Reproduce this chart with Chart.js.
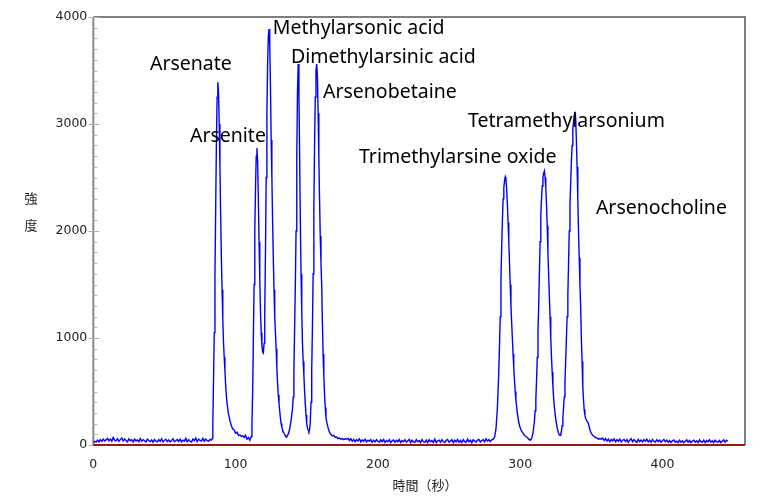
<!DOCTYPE html>
<html>
<head>
<meta charset="utf-8">
<script src="https://cdn.jsdelivr.net/npm/chart.js@4.4.1/dist/chart.umd.min.js"></script>
<style>
  body { margin: 0; background: #fff; }
  canvas { display: block; }
</style>
</head>
<body>
<canvas id="chrom" width="764" height="500"></canvas>
<script>
// retention time (s), intensity
const baselineStart = [
  [0,20],[1,35],[2,28],[3,45],[4,30],[5,50],[6,35],[7,55],[8,38],[9,48],[10,62],[11,40],[12,55],[13,35],[14,70],
  [15,45],[16,38],[17,60],[18,35],[19,50],[20,65],[21,38],[22,55],[23,42],[24,30],[25,58],[26,40],[27,50],[28,28],
  [29,55],[30,38],[31,48],[32,30],[33,60],[34,36],[35,50],[36,40],[37,28],[38,55],[39,42],[40,32],[41,48],[42,25],
  [43,52],[44,36],[45,30],[46,50],[47,35],[48,58],[49,28],[50,45],[51,52],[52,32],[53,48],[54,28],[55,42],[56,58],
  [57,30],[58,40],[59,52],[60,33],[61,55],[62,28],[63,45],[64,36],[65,62],[66,30],[67,50],[68,35],[69,28],[70,55],
  [71,40],[72,65],[73,32],[74,55],[75,42],[76,36],[77,62],[78,35],[79,55],[80,40],[81,35],[82,50],[83,45]
];

const earlyPeaks = [
  // arsenate
  [83.5,60],[84,200],[84.5,600],[85,1050],[85.5,1600],[86,2200],[86.5,2800],[87,3250],[87.5,3390],[88,3300],
  [88.5,3000],[89,2600],[89.5,2150],[90,1750],[90.5,1450],[91,1180],[91.5,960],[92,820],[92.5,700],[93,560],
  [93.5,460],[94,390],[95,290],[96,230],[97,180],[98,150],[99,140],[100,110],[101,120],[102,90],[103,95],
  [104,80],[105,85],[106,70],[107,90],[108,55],[109,70],[110,45],[111,80],
  // arsenite + methylarsonic acid
  [111.5,200],[112,500],[112.5,1000],[113,1500],[113.5,2000],[114,2400],[114.5,2700],[115,2775],[115.5,2650],
  [116,2300],[116.5,1900],[117,1550],[117.5,1250],[118,1050],[118.5,930],[119,870],[119.5,860],[120,950],
  [120.5,1250],[121,1800],[121.5,2500],[122,3100],[122.5,3550],[123,3820],[123.5,3888],[124,3750],[124.5,3350],
  [125,2850],[125.5,2500],[126,2100],[126.5,1750],[127,1450],[127.5,1200],[128,1050],[128.5,900],[129,720],
  [129.5,580],[130,470],[130.5,390],[131,320],[131.5,250],[132,200],[132.5,170],[133,140],[134,110],[135,85],
  [135.5,75],[136,80],[136.5,95],[137,100],[138,150],[139,230],
  // dimethylarsinic acid
  [140,340],[140.5,450],[141,700],[141.5,1100],[142,1500],[142.5,2000],[143,2700],[143.5,3300],[144,3561],
  [144.5,3300],[145,2700],[145.5,2100],[146,1600],[146.5,1250],[147,950],[147.5,780],[148,650],[148.5,500],
  [149,380],[149.5,280],[150,200],[150.5,160],[151,140],[151.5,125],
  // arsenobetaine
  [152,140],[152.5,220],[153,400],[153.5,700],[154,1100],[154.5,1600],[155,2200],[155.5,2800],[156,3250],
  [156.5,3500],[157,3561],[157.5,3450],[158,3100],[158.5,2700],[159,2300],[159.5,1950],[160,1700],[160.5,1500],
  [161,1150],[161.5,850],[162,650],[162.5,480],[163,350],[163.5,260],[164,220],[165,160],[166,120],[167,100],
  [168,85],[169,90],[170,70],[171,75],[172,60],[173,65],[174,55],[175,60],[176,50],[177,58]
];

const midBaseline = [
  [178,55],[179,62],[180,42],[181,58],[182,35],[183,52],[184,30],[185,50],[186,38],[187,58],[188,30],[189,48],
  [190,34],[191,55],[192,28],[193,45],[194,35],[195,52],[196,25],[197,44],[198,30],[199,50],[200,35],[201,25],
  [202,48],[203,30],[204,52],[205,25],[206,42],[207,30],[208,50],[209,22],[210,40],[211,48],[212,26],[213,44],
  [214,30],[215,52],[216,22],[217,42],[218,30],[219,48],[220,26],[221,40],[222,52],[223,22],[224,45],[225,30],
  [226,25],[227,50],[228,30],[229,42],[230,22],[231,52],[232,30],[233,25],[234,45],[235,22],[236,50],[237,30],
  [238,42],[239,25],[240,55],[241,22],[242,40],[243,46],[244,26],[245,50],[246,30],[247,22],[248,44],[249,52],
  [250,26],[251,38],[252,50],[253,22],[254,45],[255,30],[256,52],[257,26],[258,42],[259,22],[260,50],[261,32],
  [262,26],[263,55],[264,30],[265,45],[266,22],[267,50],[268,36],[269,28],[270,46],[271,52],[272,28],[273,42],
  [274,50],[275,30],[276,58],[277,36],[278,50],[279,32],[280,48],[281,55],[282,70]
];

const latePeaks = [
  // trimethylarsine oxide
  [283,150],[284,350],[285,700],[285.5,950],[286,1200],[286.5,1550],[287,1850],[287.5,2100],[288,2300],
  [288.5,2400],[289,2470],[289.5,2505],[290,2480],[290.5,2400],[291,2250],[291.5,2080],[292,1900],[292.5,1700],
  [293,1500],[293.5,1300],[294,1150],[294.5,1000],[295,850],[295.5,720],[296,600],[296.5,500],[297,420],
  [298,300],[299,210],[300,160],[301,130],[302,110],[303,90],[304,80],[305,70],[306,55],[307,45],[308,60],
  // tetramethylarsonium
  [309,110],[310,220],[310.5,320],[311,430],[311.5,600],[312,820],[312.5,1050],[313,1300],[313.5,1600],
  [314,1900],[314.5,2150],[315,2300],[315.5,2420],[316,2500],[316.5,2540],[317,2560],[317.5,2500],[318,2400],
  [318.5,2250],[319,2050],[319.5,1800],[320,1600],[320.5,1400],[321,1200],[321.5,1000],[322,820],[322.5,680],
  [323,550],[323.5,440],[324,360],[325,240],[326,160],[327,110],[327.5,95],[328,90],[328.5,100],
  // arsenocholine
  [329,130],[329.5,180],[330,260],[330.5,350],[331,450],[331.5,600],[332,800],[332.5,1000],[333,1200],
  [333.5,1400],[334,1700],[334.5,2000],[335,2250],[335.5,2450],[336,2650],[336.5,2800],[337,2950],[337.5,3020],
  [338,3080],[338.5,3115],[339,3050],[339.5,2850],[340,2600],[340.5,2300],[341,2000],[341.5,1750],[342,1500],
  [342.5,1300],[343,1000],[343.5,780],[344,550],[344.5,420],[345,330],[345.5,280],[346,250],[347,220],
  [348,200],[349,140],[350,110],[351,90],[352,80],[353,70],[354,65],[355,55],[356,60]
];

const tailBaseline = [
  [357,55],[358,65],[359,42],[360,60],[361,38],[362,55],[363,32],[364,52],[365,38],[366,58],[367,30],[368,50],
  [369,35],[370,55],[371,28],[372,45],[373,52],[374,32],[375,50],[376,25],[377,45],[378,58],[379,30],[380,50],
  [381,36],[382,25],[383,52],[384,32],[385,46],[386,28],[387,50],[388,36],[389,55],[390,28],[391,45],[392,25],
  [393,52],[394,35],[395,28],[396,50],[397,32],[398,46],[399,25],[400,42],[401,52],[402,30],[403,46],[404,25],
  [405,42],[406,22],[407,40],[408,48],[409,26],[410,36],[411,22],[412,45],[413,26],[414,40],[415,22],[416,36],
  [417,48],[418,26],[419,42],[420,22],[421,38],[422,45],[423,26],[424,40],[425,22],[426,48],[427,30],[428,26],
  [429,45],[430,22],[431,42],[432,30],[433,48],[434,26],[435,40],[436,22],[437,45],[438,30],[439,26],[440,42],
  [441,22],[442,36],[443,48],[444,26],[445,44],[446,35]
];

const peakNames = ["Arsenate", "Arsenite", "Methylarsonic acid", "Dimethylarsinic acid", "Arsenobetaine",
  "Trimethylarsine oxide", "Tetramethylarsonium", "Arsenocholine"];
// where each name sits, in axis units (time, intensity)
const nameTime = [39.8, 67.9, 126.2, 138.9, 161.4, 186.7, 263.3, 353.2];
const nameLevel = [3561, 2888, 3897, 3626, 3299, 2692, 3028, 2215];

const xTicks = [0, 100, 200, 300, 400];
const yTicks = [0, 1000, 2000, 3000, 4000];

const signal = [...baselineStart, ...earlyPeaks, ...midBaseline, ...latePeaks, ...tailBaseline]
  .map(p => ({ x: p[0], y: p[1] }));

const decorations = {
  id: "decorations",
  beforeDatasetsDraw(chart) {
    const { ctx, chartArea: a, scales: { y } } = chart;
    ctx.save();
    // frame top/right
    ctx.strokeStyle = "#555";
    ctx.lineWidth = 1.5;
    ctx.beginPath();
    ctx.moveTo(a.left, a.top);
    ctx.lineTo(a.right, a.top);
    ctx.lineTo(a.right, a.bottom);
    ctx.stroke();
    // left axis + ticks
    ctx.strokeStyle = "#8a8a8a";
    ctx.lineWidth = 2;
    ctx.beginPath();
    ctx.moveTo(a.left, a.top);
    ctx.lineTo(a.left, a.bottom);
    ctx.stroke();
    ctx.lineWidth = 1;
    ctx.strokeStyle = "#b0b0b0";
    for (let v = 0; v <= 4000; v += 100) {
      const py = Math.round(y.getPixelForValue(v)) + 0.5;
      const major = v % 1000 === 0;
      ctx.beginPath();
      ctx.moveTo(major ? a.left - 5 : a.left, py);
      ctx.lineTo(a.left + (major ? 6 : 4), py);
      ctx.stroke();
    }
    ctx.restore();
  },
  afterDatasetsDraw(chart) {
    const { ctx, chartArea: a, scales: { x, y } } = chart;
    ctx.save();
    // bottom axis
    ctx.strokeStyle = "#a31515";
    ctx.lineWidth = 2;
    ctx.beginPath();
    ctx.moveTo(a.left, a.bottom);
    ctx.lineTo(a.right, a.bottom);
    ctx.stroke();

    // peak names
    ctx.fillStyle = "#000";
    ctx.font = "19.5px 'Noto Sans'";
    ctx.textBaseline = "middle";
    ctx.textAlign = "left";
    peakNames.forEach((name, i) => {
      ctx.fillText(name, x.getPixelForValue(nameTime[i]), y.getPixelForValue(nameLevel[i]));
    });

    // axis titles
    ctx.font = "13px 'Noto Sans CJK JP'";
    ctx.fillStyle = "#222";
    ctx.textAlign = "center";
    ctx.fillText("強", 31, 198);
    ctx.fillText("度", 31, 225);
    ctx.fillText("時間（秒）", 425, 485);
    ctx.restore();
  }
};

new Chart(document.getElementById("chrom"), {
  type: "line",
  data: {
    datasets: [{
      data: signal,
      borderColor: "#0000ff",
      borderWidth: 1.4,
      pointRadius: 0,
      tension: 0,
      fill: false
    }]
  },
  options: {
    responsive: false,
    animation: false,
    devicePixelRatio: 1,
    parsing: false,
    layout: { padding: { top: 17, right: 19, left: 0, bottom: 0 } },
    plugins: { legend: { display: false }, tooltip: { enabled: false } },
    scales: {
      x: {
        type: "linear",
        min: 0,
        max: 458,
        grid: { display: false, drawTicks: false },
        border: { display: false },
        afterFit: s => { s.height = 55; },
        afterBuildTicks: s => { s.ticks = xTicks.map(v => ({ value: v })); },
        ticks: { padding: 12, color: "#222", font: { family: "DejaVu Sans", size: 12.5 }, maxRotation: 0,
          callback: v => String(v) }
      },
      y: {
        min: 0,
        max: 4000,
        grid: { display: false, drawTicks: false },
        border: { display: false },
        afterFit: s => { s.width = 93.3; },
        afterBuildTicks: s => { s.ticks = yTicks.map(v => ({ value: v })); },
        ticks: { padding: 6, color: "#222", font: { family: "DejaVu Sans", size: 12.5 },
          callback: v => String(v) }
      }
    }
  },
  plugins: [decorations]
});
</script>
</body>
</html>
